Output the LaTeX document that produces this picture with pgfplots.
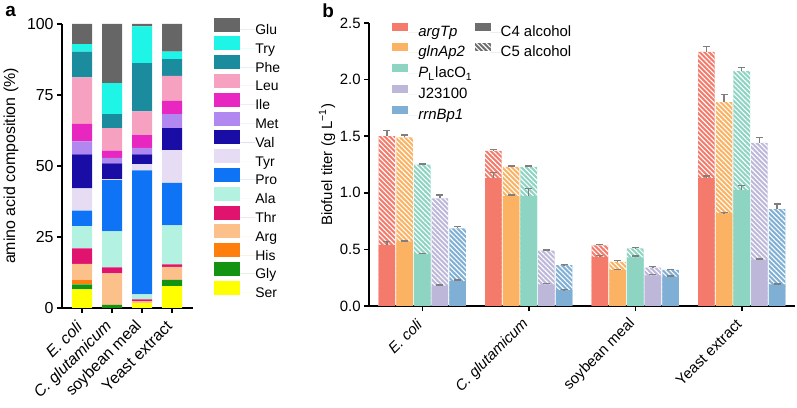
\documentclass[border=0pt]{standalone}
\usepackage{fontspec}
\setmainfont{Liberation Sans}
\usepackage{pgfplots}
\pgfplotsset{compat=1.18}
\usepackage{pgfplotstable}
\usetikzlibrary{patterns.meta}

\definecolor{cGlu}{HTML}{666666}
\definecolor{cTry}{HTML}{1EF5E6}
\definecolor{cPhe}{HTML}{1A8C9E}
\definecolor{cLeu}{HTML}{F7A1C0}
\definecolor{cIle}{HTML}{E826C0}
\definecolor{cMet}{HTML}{B088F0}
\definecolor{cVal}{HTML}{1A0DA6}
\definecolor{cTyr}{HTML}{E6DDF5}
\definecolor{cPro}{HTML}{0F73F5}
\definecolor{cAla}{HTML}{B3F2E0}
\definecolor{cThr}{HTML}{E0136F}
\definecolor{cArg}{HTML}{FCC08A}
\definecolor{cHis}{HTML}{FF7F0E}
\definecolor{cGly}{HTML}{129412}
\definecolor{cSer}{HTML}{FFFF00}

\definecolor{cargt}{HTML}{F47B6B}
\definecolor{cgln}{HTML}{FBB262}
\definecolor{cpl}{HTML}{8DD4C2}
\definecolor{cj}{HTML}{BDB7DA}
\definecolor{crrn}{HTML}{7FAFD5}
\definecolor{errgray}{HTML}{7F7F7F}
\definecolor{legray}{HTML}{6E6E6E}

\tikzset{hatch/.style={postaction={pattern={Lines[angle=-45,distance=1.7bp,line width=0.55bp]}, pattern color=white}}}
\pgfplotsset{errs/.style={forget plot, draw=none, mark=none,
  error bars/.cd, y dir=plus, y explicit,
  error bar style={draw=errgray, line width=0.7bp, solid},
  error mark options={draw=errgray, line width=0.7bp, mark size=1.75bp, solid, rotate=90}}}

\pgfplotstableread{
x Ser Gly His Arg Thr Ala Pro Tyr Val Met Ile Leu Phe Try Glu
0 6.6 1.7 1.6 5.6 5.5 7.8 5.5 7.8 12.0 4.6 6.1 16.4 9.1 2.6 7.1
1 0.0 1.1 0.0 11.1 2.1 12.7 18.0 0.4 5.5 2.0 2.5 7.9 5.0 10.9 20.8
2 1.7 0.0 0.0 0.6 0.7 1.8 43.7 2.2 3.4 2.3 4.5 8.3 17.0 13.0 0.8
3 7.7 2.2 0.0 4.6 0.9 13.7 15.0 11.5 7.7 5.0 4.6 8.8 5.9 2.7 9.7
}\aminotable

\begin{document}
\begin{tikzpicture}
\path[use as bounding box] (0,0) rectangle (398.5bp,204bp);
\node[anchor=base west, font=\bfseries\fontsize{9.5}{10}\selectfont, inner sep=0pt] at (2.5bp,195.5bp) {a};
\node[anchor=base west, font=\bfseries\fontsize{9.5}{10}\selectfont, inner sep=0pt] at (161bp,195bp) {b};

% ---------------- panel a ----------------
\begin{axis}[
  scale only axis, width=65.5bp, height=142bp,
  at={(31bp,50bp)}, anchor=south west,
  ybar stacked, bar width=0.667,
  xmin=-0.667, xmax=3.7, ymin=0, ymax=100,
  axis x line*=bottom, axis y line*=left,
  axis line style={line width=0.75bp, -},
  every tick/.style={black, line width=0.75bp},
  tick align=outside, major tick length=2.5bp,
  xtick={0,1,2,3}, ytick={0,25,50,75,100},
  xticklabels={\textit{E. coli}, \textit{C. glutamicum}, soybean meal, Yeast extract},
  xticklabel style={xshift=-0.5bp, yshift=-4.6bp, rotate=45, anchor=east, inner sep=1bp, font=\fontsize{8}{9}\selectfont},
  yticklabel style={font=\fontsize{8}{9}\selectfont, inner sep=1.5bp},
  /pgf/number format/assume math mode=true,
  ylabel={amino acid composition (\%)},
  ylabel style={font=\fontsize{8}{9}\selectfont, at={(axis description cs:-0.39,0.5)}, anchor=center},
  reverse legend,
  legend style={at={(axis description cs:1.160,1.024)}, anchor=north west, draw=none, fill=none,
    inner sep=0pt, row sep=-0.1bp, font=\fontsize{7}{8}\selectfont,
    nodes={inner sep=0pt, text height=6bp, text depth=1bp}},
  legend cell align=left,
  legend image code/.code={\path[#1] (0bp,-1bp) rectangle (13bp,6bp); \path (13bp,0bp) -- (20.5bp,0bp);},
]
\addplot[fill=cSer, draw=none] table[x=x,y=Ser]{\aminotable}; \addlegendentry{Ser}
\addplot[fill=cGly, draw=none] table[x=x,y=Gly]{\aminotable}; \addlegendentry{Gly}
\addplot[fill=cHis, draw=none] table[x=x,y=His]{\aminotable}; \addlegendentry{His}
\addplot[fill=cArg, draw=none] table[x=x,y=Arg]{\aminotable}; \addlegendentry{Arg}
\addplot[fill=cThr, draw=none] table[x=x,y=Thr]{\aminotable}; \addlegendentry{Thr}
\addplot[fill=cAla, draw=none] table[x=x,y=Ala]{\aminotable}; \addlegendentry{Ala}
\addplot[fill=cPro, draw=none] table[x=x,y=Pro]{\aminotable}; \addlegendentry{Pro}
\addplot[fill=cTyr, draw=none] table[x=x,y=Tyr]{\aminotable}; \addlegendentry{Tyr}
\addplot[fill=cVal, draw=none] table[x=x,y=Val]{\aminotable}; \addlegendentry{Val}
\addplot[fill=cMet, draw=none] table[x=x,y=Met]{\aminotable}; \addlegendentry{Met}
\addplot[fill=cIle, draw=none] table[x=x,y=Ile]{\aminotable}; \addlegendentry{Ile}
\addplot[fill=cLeu, draw=none] table[x=x,y=Leu]{\aminotable}; \addlegendentry{Leu}
\addplot[fill=cPhe, draw=none] table[x=x,y=Phe]{\aminotable}; \addlegendentry{Phe}
\addplot[fill=cTry, draw=none] table[x=x,y=Try]{\aminotable}; \addlegendentry{Try}
\addplot[fill=cGlu, draw=none] table[x=x,y=Glu]{\aminotable}; \addlegendentry{Glu}
\end{axis}

% ---------------- panel b ----------------
\begin{axis}[
  scale only axis, width=213bp, height=141.5bp,
  at={(184.5bp,51bp)}, anchor=south west,
  xmin=-0.5, xmax=3.5, ymin=0, ymax=2.5,
  axis x line*=bottom, axis y line*=left,
  axis line style={line width=0.75bp, -},
  every tick/.style={black, line width=0.75bp},
  tick align=outside, major tick length=2.5bp,
  xtick={0,1,2,3}, ytick={0,0.5,1,1.5,2,2.5},
  xticklabels={\textit{E. coli}, \textit{C. glutamicum}, soybean meal, Yeast extract},
  xticklabel style={xshift=-0.5bp, yshift=-4.6bp, rotate=45, anchor=east, inner sep=1bp, font=\fontsize{7.5}{9}\selectfont},
  yticklabel style={font=\fontsize{7.5}{9}\selectfont, inner sep=1.5bp, /pgf/number format/.cd, fixed, fixed zerofill, precision=1},
  /pgf/number format/assume math mode=true,
  ylabel={Biofuel titer (g L\textsuperscript{−1})},
  ylabel style={font=\fontsize{7.5}{9}\selectfont, at={(axis description cs:-0.0986,0.5)}, anchor=center},
  legend columns=2,
  legend style={at={(axis description cs:0.054,1.003)}, anchor=north west, draw=none, fill=none,
    inner sep=0pt, row sep=2.2bp, font=\fontsize{7.5}{9}\selectfont,
    nodes={inner sep=0pt, text height=5.5bp, text depth=1.5bp},
    /tikz/every even column/.append style={column sep=1bp}},
  legend cell align=left,
  legend image code/.code={\path[#1] (0bp,0.75bp) rectangle (8bp,4.75bp); \path (8bp,0bp) -- (13bp,0bp);},
]
\addlegendimage{fill=cargt, draw=none}\addlegendentry{\textit{argTp}}
\addlegendimage{fill=legray, draw=none}\addlegendentry{C4 alcohol}
\addlegendimage{fill=cgln, draw=none}\addlegendentry{\textit{glnAp2}}
\addlegendimage{fill=legray, draw=none, hatch}\addlegendentry{C5 alcohol}
\addlegendimage{fill=cpl, draw=none}\addlegendentry{\textit{P}\textsubscript{L}lacO\textsubscript{1}}
\addlegendimage{draw=none, fill=none}\addlegendentry{}
\addlegendimage{fill=cj, draw=none}\addlegendentry{J23100}
\addlegendimage{draw=none, fill=none}\addlegendentry{}
\addlegendimage{fill=crrn, draw=none}\addlegendentry{\textit{rrnBp1}}

% argTp
\addplot[forget plot, ybar, bar width=0.156, bar shift=-0.332, fill=cargt, draw=none, hatch]
  coordinates {(0,1.50) (1,1.37) (2,0.535) (3,2.245)};
\addplot[forget plot, ybar, bar width=0.156, bar shift=-0.332, fill=cargt, draw=none]
  coordinates {(0,0.54) (1,1.13) (2,0.435) (3,1.13)};
% glnAp2
\addplot[forget plot, ybar, bar width=0.156, bar shift=-0.166, fill=cgln, draw=none, hatch]
  coordinates {(0,1.49) (1,1.23) (2,0.39) (3,1.80)};
\addplot[forget plot, ybar, bar width=0.156, bar shift=-0.166, fill=cgln, draw=none]
  coordinates {(0,0.57) (1,0.97) (2,0.32) (3,0.82)};
% PLlacO1
\addplot[forget plot, ybar, bar width=0.156, bar shift=0, fill=cpl, draw=none, hatch]
  coordinates {(0,1.25) (1,1.23) (2,0.51) (3,2.075)};
\addplot[forget plot, ybar, bar width=0.156, bar shift=0, fill=cpl, draw=none]
  coordinates {(0,0.46) (1,0.97) (2,0.43) (3,1.025)};
% J23100
\addplot[forget plot, ybar, bar width=0.156, bar shift=0.166, fill=cj, draw=none, hatch]
  coordinates {(0,0.95) (1,0.49) (2,0.34) (3,1.44)};
\addplot[forget plot, ybar, bar width=0.156, bar shift=0.166, fill=cj, draw=none]
  coordinates {(0,0.18) (1,0.19) (2,0.27) (3,0.41)};
% rrnBp1
\addplot[forget plot, ybar, bar width=0.156, bar shift=0.332, fill=crrn, draw=none, hatch]
  coordinates {(0,0.685) (1,0.36) (2,0.32) (3,0.855)};
\addplot[forget plot, ybar, bar width=0.156, bar shift=0.332, fill=crrn, draw=none]
  coordinates {(0,0.22) (1,0.14) (2,0.26) (3,0.19)};

% error bars (at the bar centres)
\addplot[errs] coordinates {(-0.332,1.50) +- (0,0.05) (0.668,1.37) +- (0,0.01) (1.668,0.535) +- (0,0.01) (2.668,2.245) +- (0,0.05)};
\addplot[errs] coordinates {(-0.332,0.54) +- (0,0.03) (0.668,1.13) +- (0,0.05) (1.668,0.435) +- (0,0.01) (2.668,1.13) +- (0,0.02)};
\addplot[errs] coordinates {(-0.166,1.49) +- (0,0.02) (0.834,1.23) +- (0,0.005) (1.834,0.39) +- (0,0.01) (2.834,1.80) +- (0,0.07)};
\addplot[errs] coordinates {(-0.166,0.57) +- (0,0.005) (0.834,0.97) +- (0,0.01) (1.834,0.32) +- (0,0.005) (2.834,0.82) +- (0,0.005)};
\addplot[errs] coordinates {(0,1.25) +- (0,0.005) (1,1.23) +- (0,0.005) (2,0.51) +- (0,0.005) (3,2.075) +- (0,0.03)};
\addplot[errs] coordinates {(0,0.46) +- (0,0.005) (1,0.97) +- (0,0.07) (2,0.43) +- (0,0.01) (3,1.025) +- (0,0.04)};
\addplot[errs] coordinates {(0.166,0.95) +- (0,0.03) (1.166,0.49) +- (0,0.005) (2.166,0.34) +- (0,0.01) (3.166,1.44) +- (0,0.05)};
\addplot[errs] coordinates {(0.166,0.18) +- (0,0.005) (1.166,0.19) +- (0,0.01) (2.166,0.27) +- (0,0.01) (3.166,0.41) +- (0,0.005)};
\addplot[errs] coordinates {(0.332,0.685) +- (0,0.015) (1.332,0.36) +- (0,0.005) (2.332,0.32) +- (0,0.005) (3.332,0.855) +- (0,0.045)};
\addplot[errs] coordinates {(0.332,0.22) +- (0,0.01) (1.332,0.14) +- (0,0.005) (2.332,0.26) +- (0,0.005) (3.332,0.19) +- (0,0.005)};
\end{axis}
\end{tikzpicture}
\end{document}
